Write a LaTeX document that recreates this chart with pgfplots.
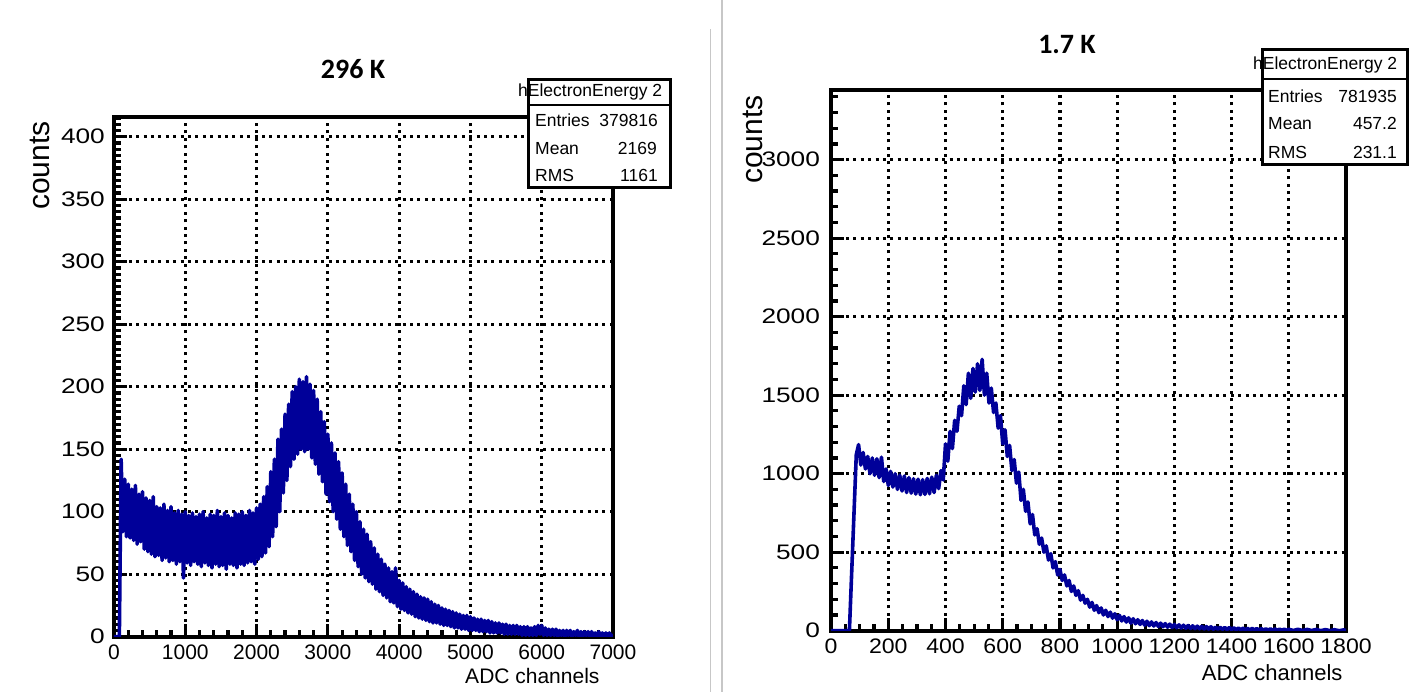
\documentclass[border=0pt]{standalone}
\usepackage{fontspec}
\setmainfont{Liberation Sans}
\newfontfamily\titlefont{Carlito}
\newfontfamily\widefont[FakeStretch=1.25]{Liberation Sans}
\newfontfamily\semiwidefont[FakeStretch=1.1]{Liberation Sans}
\usepackage{pgfplots}
\pgfplotsset{compat=1.18}
\definecolor{rootblue}{RGB}{0,0,153}

\pgfplotsset{
  rootaxis/.style={
    scale only axis,
    axis line style={line width=4pt},
    tick style={line width=3.2pt, black},
    major tick length=13pt,
    minor tick length=7pt,
    tick align=inside,
    xtick pos=bottom, ytick pos=left,
    grid=major,
    major grid style={black, line width=3.2pt, dash pattern=on 3pt off 4.4pt},
    tick label style={inner sep=0pt},
    xticklabel shift=8pt,
    /pgf/number format/assume math mode=true,
    /pgf/number format/1000 sep={},
    xmin=0, ymin=0,
    ylabel style={font=\fontsize{30}{30}\selectfont, anchor=base east},
    xlabel style={anchor=base east},
  }
}

\begin{document}
\begin{tikzpicture}[x=1pt,y=1pt]
\useasboundingbox (0,0) rectangle (1409,692);

% panel separators
\draw[black!22, line width=1.4pt] (710.7,0) -- (710.7,663);
\draw[black!22, line width=1.4pt] (722,0) -- (722,692);

% ---------------- 296 K ----------------
\begin{axis}[rootaxis,
  at={(114pt,55.3pt)}, anchor=south west,
  width=499pt, height=520pt,
  xmax=7000, ymax=416,
  xtick={0,1000,...,7000}, minor xtick={0,200,...,7000},
  ytick={0,50,...,400}, minor ytick={0,5,...,415},
  xticklabel style={font=\fontsize{21}{21}\selectfont},
  yticklabel style={font=\widefont\fontsize{21}{21}\selectfont},
  yticklabel shift=9pt,
  xlabel={ADC channels}, ylabel={counts},
  xlabel style={at={(axis description cs:0.98,-0.0896)}, font=\fontsize{21}{21}\selectfont},
  ylabel style={at={(axis description cs:-0.1283,0.9975)}},
]
\addplot[rootblue, line width=3.6pt, line join=round] coordinates {
(0,0)(75,0)(100,142)
(125,84)(150,126)(175,80)(200,122)(225,79)(250,118)(275,77)(300,121)(325,74)(350,114)
(375,76)(400,116)(425,70)(450,111)(475,68)(500,109)(525,66)(550,112)(575,64)(600,104)
(625,65)(650,103)(675,61)(700,106)(725,63)(750,101)(775,60)(800,104)(825,61)(850,99)
(875,58)(900,101)(925,60)(950,98)(975,47)(1000,100)(1025,59)(1050,97)(1075,57)(1100,99)
(1125,60)(1150,96)(1175,58)(1200,98)(1225,56)(1250,100)(1275,59)(1300,95)(1325,57)(1350,98)
(1375,55)(1400,97)(1425,58)(1450,101)(1475,56)(1500,96)(1525,57)(1550,99)(1575,54)(1600,97)
(1625,58)(1650,95)(1675,57)(1700,99)(1725,55)(1750,98)(1775,58)(1800,100)(1825,57)(1850,97)
(1875,59)(1900,101)(1925,60)(1950,99)(1975,58)(2000,103)(2025,62)(2050,106)(2075,64)(2100,112)
(2125,67)(2150,120)(2175,72)(2200,132)(2225,80)(2250,142)(2275,88)(2300,158)(2325,100)(2350,166)
(2375,115)(2400,178)(2425,125)(2450,186)(2475,136)(2500,196)(2525,142)(2550,200)(2575,146)(2600,206)
(2625,150)(2650,204)(2675,148)(2700,208)(2725,150)(2750,202)(2775,143)(2800,197)(2825,138)(2850,190)
(2875,130)(2900,180)(2925,124)(2950,172)(2975,114)(3000,162)(3025,108)(3050,155)(3075,100)(3100,147)
(3125,94)(3150,140)(3175,86)(3200,131)(3225,80)(3250,122)(3275,73)(3300,114)(3325,68)(3350,106)
(3375,61)(3400,100)(3425,56)(3450,92)(3475,50)(3500,86)(3525,47)(3550,82)(3575,44)(3600,76)
(3625,42)(3650,71)(3675,38)(3700,66)(3725,36)(3750,62)(3775,33)(3800,58)(3825,31)(3850,55)
(3875,28)(3900,52)(3925,27)(3950,55)(3975,24)(4000,45)(4025,22)(4050,43)(4075,21)(4100,40)
(4125,19)(4150,38)(4175,18)(4200,36)(4225,16)(4250,34)(4275,15)(4300,32)(4325,14)(4350,31)
(4375,13)(4400,30)(4425,12)(4450,28)(4475,11)(4500,26)(4525,11)(4550,25)(4575,10)(4600,23)
(4625,9)(4650,22)(4675,9)(4700,21)(4725,8)(4750,20)(4775,7)(4800,19)(4825,7)(4850,18)
(4875,6)(4900,17)(4925,6)(4950,17)(4975,5)(5000,16)(5025,5)(5050,15)(5075,5)(5100,14)
(5125,4)(5150,14)(5175,4)(5200,13)(5225,4)(5250,13)(5275,3)(5300,12)(5325,3)(5350,11)
(5375,3)(5400,11)(5425,3)(5450,10)(5475,2)(5500,10)(5525,2)(5550,9)(5575,2)(5600,9)
(5625,2)(5650,9)(5675,2)(5700,8)(5725,1)(5750,8)(5775,1)(5800,8)(5825,1)(5850,7)
(5875,1)(5900,8)(5925,1)(5950,9)(5975,2)(6000,9)(6025,1)(6050,7)(6075,1)(6100,6)
(6125,1)(6150,6)(6175,1)(6200,6)(6225,0)(6250,5)(6275,1)(6300,5)(6325,0)(6350,5)
(6375,1)(6400,5)(6425,0)(6450,4)(6475,1)(6500,5)(6525,0)(6550,4)(6575,0)(6600,4)
(6625,1)(6650,4)(6675,0)(6700,4)(6725,0)(6750,3)(6775,0)(6800,4)(6825,0)(6850,3)
(6875,0)(6900,3)(6925,0)(6950,3)(6975,0)(7000,2)
};
\end{axis}

% ---------------- 1.7 K ----------------
\begin{axis}[rootaxis,
  at={(831.1pt,61.3pt)}, anchor=south west,
  width=514.9pt, height=540.7pt,
  xmax=1800, ymax=3444,
  xtick={0,200,...,1800}, minor xtick={0,50,...,1800},
  ytick={0,500,...,3000}, minor ytick={0,100,...,3400},
  xticklabel style={font=\semiwidefont\fontsize{21}{21}\selectfont},
  yticklabel style={font=\widefont\fontsize{21}{21}\selectfont},
  yticklabel shift=11pt,
  xlabel={ADC channels}, ylabel={counts},
  xlabel style={at={(axis description cs:1.0,-0.0912)}, font=\fontsize{22}{22}\selectfont},
  ylabel style={at={(axis description cs:-0.1323,0.9963)}},
]
\addplot[rootblue, line width=3.6pt, line join=round] coordinates {
(0,0)(64,0)(88,1120)(96,1185)
(104,1055)(112,1135)(120,1030)(128,1110)(136,1000)(144,1100)(152,990)(160,1095)(168,975)(176,1105)
(184,950)(192,1030)(200,925)(208,1015)(216,915)(224,1000)(232,900)(240,990)(248,890)(256,985)
(264,880)(272,975)(280,876)(288,968)(296,870)(304,965)(312,866)(320,962)(328,868)(336,970)
(344,872)(352,978)(360,880)(368,990)(376,905)(384,1020)(392,960)(400,1190)(408,1080)(416,1270)
(424,1160)(432,1340)(440,1270)(448,1430)(456,1370)(464,1560)(472,1440)(480,1640)(488,1480)(496,1670)
(504,1520)(512,1700)(520,1530)(528,1728)(536,1500)(544,1640)(552,1450)(560,1545)(568,1390)(576,1450)
(584,1290)(592,1370)(600,1190)(608,1280)(616,1110)(624,1180)(632,1020)(640,1090)(648,940)(656,1010)
(664,830)(672,900)(680,760)(688,820)(696,680)(704,740)(712,610)(720,650)(728,550)(736,590)
(744,500)(752,540)(760,450)(768,490)(776,400)(784,440)(792,355)(800,390)(808,320)(816,355)
(824,285)(832,320)(840,250)(848,285)(856,225)(864,255)(872,195)(880,225)(888,175)(896,200)
(904,150)(912,180)(920,130)(928,160)(936,115)(944,145)(952,100)(960,130)(968,90)(976,118)
(984,80)(992,108)(1000,70)(1008,98)(1016,62)(1024,90)(1032,55)(1040,82)(1048,48)(1056,76)
(1064,44)(1072,70)(1080,40)(1088,65)(1096,35)(1104,60)(1112,32)(1120,56)(1128,30)(1136,52)
(1144,27)(1152,48)(1160,25)(1168,45)(1176,22)(1184,42)(1192,20)(1200,40)(1208,18)(1216,37)
(1224,17)(1232,35)(1240,15)(1248,33)(1256,14)(1264,31)(1272,13)(1280,29)(1288,12)(1296,28)
(1304,11)(1312,26)(1320,10)(1328,25)(1336,9)(1344,23)(1352,9)(1360,22)(1368,8)(1376,21)
(1384,7)(1392,20)(1400,7)(1408,18)(1416,6)(1424,17)(1432,5)(1440,16)(1448,5)(1456,15)
(1464,4)(1472,15)(1480,4)(1488,14)(1496,3)(1504,13)(1512,3)(1520,12)(1528,3)(1536,12)
(1544,2)(1552,11)(1560,2)(1568,10)(1576,2)(1584,10)(1592,2)(1600,9)(1616,1)(1632,9)
(1648,1)(1664,8)(1680,1)(1696,8)(1712,0)(1728,7)(1744,0)(1760,6)(1776,0)(1792,5)(1800,1)
};
\end{axis}

% titles
\node[anchor=base, inner sep=0pt, font=\titlefont\bfseries\fontsize{28}{28}\selectfont] at (353,613.7) {296 K};
\node[anchor=base, inner sep=0pt, font=\titlefont\bfseries\fontsize{28}{28}\selectfont] at (1067,638) {1.7 K};

% statistics box, 296 K
\draw[line width=3pt, fill=white] (528,504) rectangle (670,612);
\draw[line width=2pt] (528,587) -- (670,587);
\begin{scope}
\clip (400,504) rectangle (669,612);
\node[anchor=base west, inner sep=0pt, font=\fontsize{17.5}{17.5}\selectfont] at (518,595) {hElectronEnergy 2};
\end{scope}
\begin{scope}[every node/.style={inner sep=0pt, font=\fontsize{17.5}{17.5}\selectfont}]
\node[anchor=base west] at (535,565) {Entries};
\node[anchor=base east] at (658,565) {379816};
\node[anchor=base west] at (535,537) {Mean};
\node[anchor=base east] at (657,537) {2169};
\node[anchor=base west] at (535,510) {RMS};
\node[anchor=base east] at (658,510) {1161};
\end{scope}

% statistics box, 1.7 K
\draw[line width=3pt, fill=white] (1262,527) rectangle (1407.5,642);
\draw[line width=2pt] (1262,613) -- (1407.5,613);
\begin{scope}
\clip (1200,527) rectangle (1406,642);
\node[anchor=base west, inner sep=0pt, font=\fontsize{17.5}{17.5}\selectfont] at (1253,622) {hElectronEnergy 2};
\end{scope}
\begin{scope}[every node/.style={inner sep=0pt, font=\fontsize{17.5}{17.5}\selectfont}]
\node[anchor=base west] at (1268,589) {Entries};
\node[anchor=base east] at (1397,589) {781935};
\node[anchor=base west] at (1268,562) {Mean};
\node[anchor=base east] at (1397,562) {457.2};
\node[anchor=base west] at (1268,533) {RMS};
\node[anchor=base east] at (1397,533) {231.1};
\end{scope}
\end{tikzpicture}
\end{document}
